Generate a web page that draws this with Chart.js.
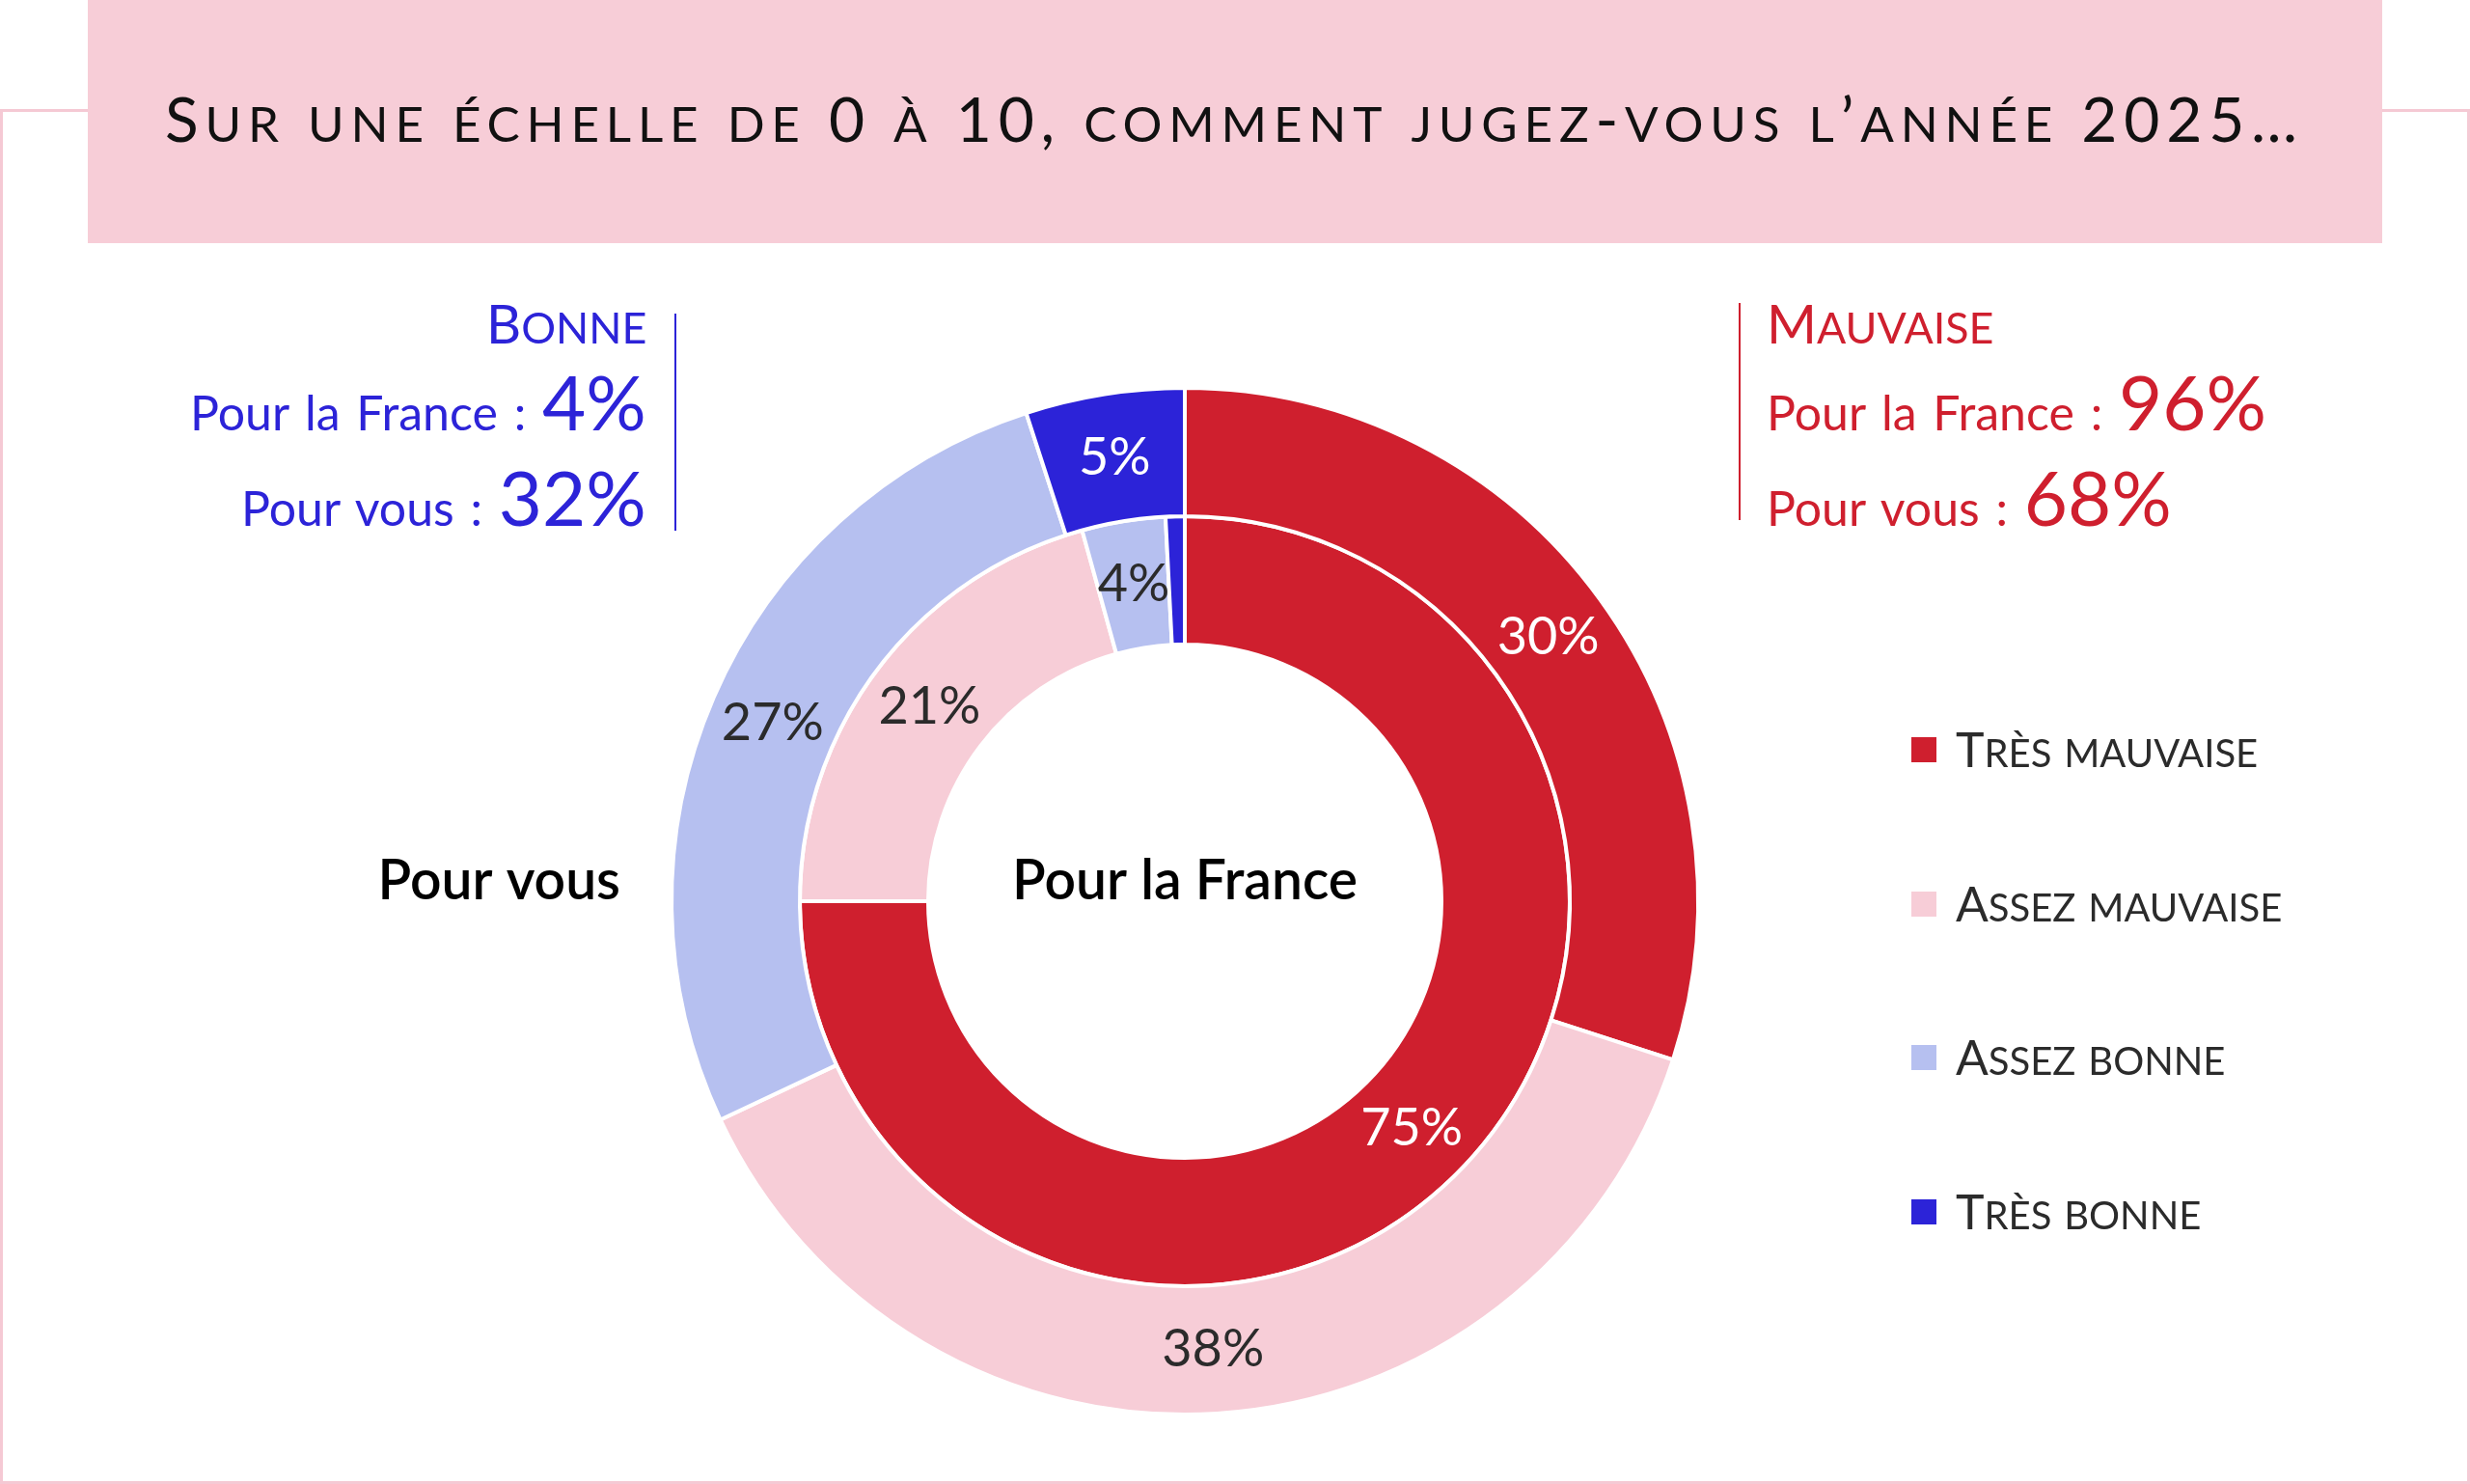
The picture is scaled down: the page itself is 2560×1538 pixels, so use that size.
<!DOCTYPE html>
<html lang="fr">
<head>
<meta charset="UTF-8">
<title>Sur une échelle de 0 à 10, comment jugez-vous l’année 2025…</title>
<script src="https://cdn.jsdelivr.net/npm/chart.js"></script>
<style>
    html, body { margin: 0; padding: 0; background: #fff; }
    body { width: 2560px; height: 1538px; position: relative; overflow: hidden; font-family: Lato, "Noto Sans", sans-serif; }
    #frame { position: absolute; left: 0; top: 113px; width: 2554px; height: 1419px; border: 3px solid #f5c9d4; }
    #titleBox { position: absolute; left: 91px; top: 0; width: 2378px; height: 252px; background: #f7cdd7; }
    #chart { position: absolute; left: 0; top: 0; }
    .txt { position: absolute; white-space: nowrap; line-height: 1; left: 0; top: 0; }
    .sc { text-transform: uppercase; font-size: 0.8em; }
    .bl { display: inline-block; width: 0; height: 0; vertical-align: baseline; }
    #title { font-size: 64px; color: #111; }
    .head { font-size: 56px; }
    .row { font-size: 50px; word-spacing: 4px; }
    .big { font-size: 78px; word-spacing: 0; }
    .blue { color: #2c23d8; }
    .red { color: #cf1f2e; }
    .vline { position: absolute; width: 2px; }
    .sq { position: absolute; width: 26px; height: 26px; }
    .leg { font-size: 50px; color: #2b2b2b; }
</style>
</head>
<body>
    <div id="frame"></div>
    <div id="titleBox"></div>
    <canvas id="chart" width="2560" height="1538"></canvas>

    <div id="title" class="txt smallcaps">Sur une échelle de 0 à 10, comment jugez-vous l’année 2025…</div>

    <!-- bloc "bonne" à gauche -->
    <div id="bonneHead" class="txt head blue smallcaps">Bonne</div>
    <div id="bonneFrance" class="txt row blue">Pour la France : <span class="big" id="bonneFranceVal"></span></div>
    <div id="bonneVous" class="txt row blue">Pour vous : <span class="big" id="bonneVousVal"></span></div>
    <div class="vline" style="left:699px; top:325px; height:225px; background:#2c23d8;"></div>

    <!-- bloc "mauvaise" à droite -->
    <div id="mauvaiseHead" class="txt head red smallcaps">Mauvaise</div>
    <div id="mauvaiseFrance" class="txt row red">Pour la France : <span class="big" id="mauvaiseFranceVal"></span></div>
    <div id="mauvaiseVous" class="txt row red">Pour vous : <span class="big" id="mauvaiseVousVal"></span></div>
    <div class="vline" style="left:1802px; top:314px; height:225px; background:#cf1f2e;"></div>

    <div id="legend"></div>

    <script>
        // données (en %)
        const categories = ['Très mauvaise', 'Assez mauvaise', 'Assez bonne', 'Très bonne'];
        const pourVous = [30, 38, 27, 5];
        const pourLaFrance = [75, 20.7, 3.5, 0.8];

        const colors = ['#cf1f2e', '#f7cdd7', '#b6c0f0', '#2c23d8'];
        const labelColors = ['#ffffff', '#2b2b2b', '#2b2b2b', '#ffffff'];

        // totaux bonne / mauvaise
        const sum = arr => arr.reduce((a, b) => a + b, 0);
        document.getElementById('bonneFranceVal').textContent = Math.round(sum(pourLaFrance.slice(2))) + '%';
        document.getElementById('bonneVousVal').textContent = Math.round(sum(pourVous.slice(2))) + '%';
        document.getElementById('mauvaiseFranceVal').textContent = Math.round(sum(pourLaFrance.slice(0, 2))) + '%';
        document.getElementById('mauvaiseVousVal').textContent = Math.round(sum(pourVous.slice(0, 2))) + '%';

        // légende
        const legend = document.getElementById('legend');
        categories.forEach((c, i) => {
            const sq = document.createElement('div');
            sq.className = 'sq';
            sq.id = 'sq' + i;
            sq.style.background = colors[i];
            legend.appendChild(sq);
            const t = document.createElement('div');
            t.className = 'txt leg smallcaps';
            t.id = 'leg' + i;
            t.textContent = c;
            legend.appendChild(t);
        });

        // petites capitales faites à la main
        function smallCaps(el) {
            const text = el.textContent;
            el.textContent = '';
            for (const m of text.matchAll(/(\p{Ll}+)|([^\p{Ll}]+)/gu)) {
                const s = document.createElement('span');
                s.textContent = m[0];
                if (m[1]) s.className = 'sc';
                el.appendChild(s);
            }
        }
        document.querySelectorAll('.smallcaps').forEach(smallCaps);

        // place un texte d'après sa ligne de base
        function place(id, x, baseline, align) {
            const el = document.getElementById(id);
            let mark = el.querySelector('.bl');
            if (!mark) {
                mark = document.createElement('span');
                mark.className = 'bl';
                el.appendChild(mark);
            }
            el.style.left = '0px';
            el.style.top = '0px';
            el.style.top = (baseline - mark.offsetTop) + 'px';
            el.style.left = (align === 'right' ? x - el.offsetWidth : x) + 'px';
        }

        function layout() {
            const title = document.getElementById('title');
            title.style.letterSpacing = '0px';
            const w0 = title.offsetWidth;
            const n = title.textContent.length;
            title.style.letterSpacing = ((2210 - w0) / (n - 1)) + 'px';
            place('title', 171, 147);

            place('bonneHead', 670, 356, 'right');
            place('bonneFrance', 670, 446, 'right');
            place('bonneVous', 670, 545, 'right');
            place('mauvaiseHead', 1831, 356);
            place('mauvaiseFrance', 1831, 446);
            place('mauvaiseVous', 1831, 545);

            const rows = [777, 937, 1096, 1256];
            rows.forEach((y, i) => {
                const sq = document.getElementById('sq' + i);
                sq.style.left = '1981px';
                sq.style.top = (y - 13) + 'px';
                place('leg' + i, 2027, y + 18);
            });
        }

        // étiquettes des anneaux + noms au centre
        const ringLabels = {
            id: 'ringLabels',
            afterDatasetsDraw(chart) {
                const ctx = chart.ctx;
                ctx.save();
                ctx.textAlign = 'center';
                ctx.textBaseline = 'middle';
                ctx.font = '54px Lato';
                chart.data.datasets.forEach((ds, di) => {
                    const meta = chart.getDatasetMeta(di);
                    meta.data.forEach((arc, i) => {
                        const v = ds.data[i];
                        if (v < 2) return;
                        const p = arc.tooltipPosition();
                        ctx.fillStyle = labelColors[i];
                        ctx.fillText(Math.round(v) + '%', p.x, p.y);
                    });
                });
                const arc0 = chart.getDatasetMeta(0).data[0];
                ctx.font = '600 57px Lato';
                ctx.fillStyle = '#000';
                ctx.textBaseline = 'alphabetic';
                ctx.fillText(chart.data.datasets[1].label, arc0.x, arc0.y - 2);
                ctx.textAlign = 'right';
                ctx.fillText(chart.data.datasets[0].label, arc0.x - arc0.outerRadius - 53, arc0.y - 2);
                ctx.restore();
            }
        };

        const ctx = document.getElementById('chart').getContext('2d');
        const chart = new Chart(ctx, {
            type: 'doughnut',
            data: {
                labels: categories,
                datasets: [
                    { label: 'Pour vous', data: pourVous, backgroundColor: colors, borderColor: '#ffffff', borderWidth: 4 },
                    { label: 'Pour la France', data: pourLaFrance, backgroundColor: colors, borderColor: '#ffffff', borderWidth: 4 }
                ]
            },
            options: {
                responsive: false,
                animation: false,
                cutout: '50%',
                layout: { padding: { left: 694, top: 400, right: 798, bottom: 70 } },
                plugins: { legend: { display: false }, tooltip: { enabled: false } }
            },
            plugins: [ringLabels]
        });

        layout();
        document.fonts.ready.then(() => { layout(); chart.draw(); });
    </script>
</body>
</html>
